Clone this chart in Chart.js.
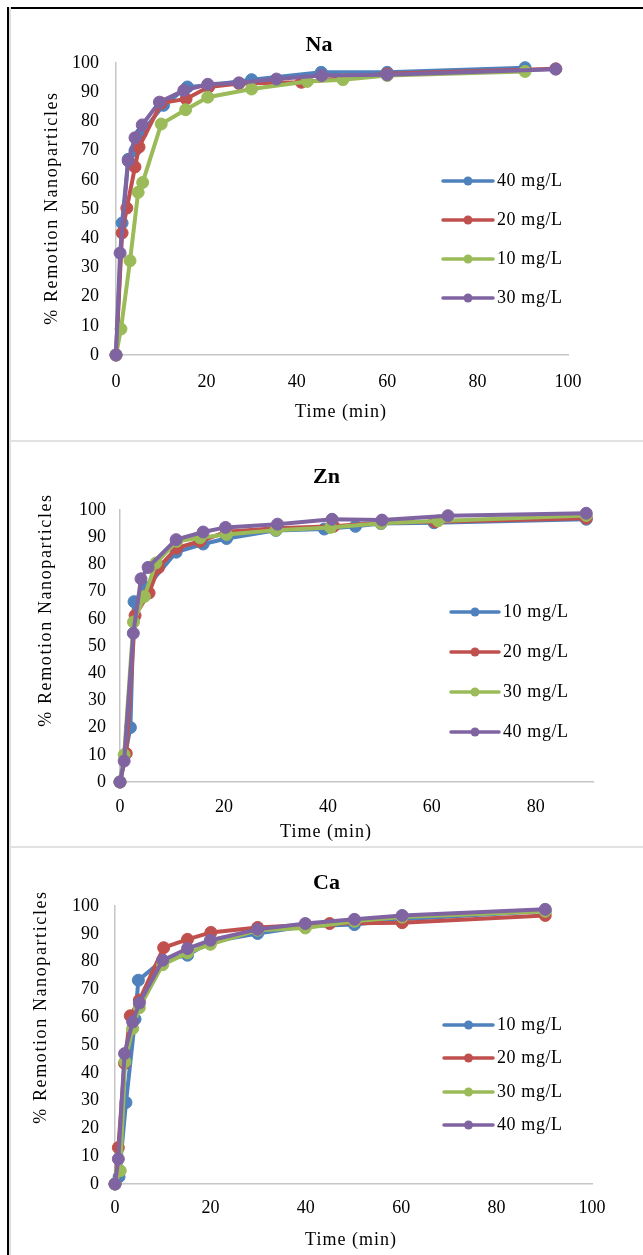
<!DOCTYPE html>
<html>
<head>
<meta charset="utf-8">
<script src="https://cdn.jsdelivr.net/npm/chart.js@4.4.0/dist/chart.umd.min.js"></script>
<style>
  html, body { margin: 0; padding: 0; background: #fff; }
  body { width: 643px; height: 1255px; position: relative; overflow: hidden; }
  .panel { position: absolute; left: 0; width: 643px; }
  .frame-top { position: absolute; left: 7px; top: 7px; right: 0; height: 2px; background: #000; }
  .frame-left { position: absolute; left: 7px; top: 7px; bottom: 0; width: 2px; background: #000; border-right: 2px solid #dedede; }
  .sep { position: absolute; left: 11px; right: 0; height: 2px; background: #e2e2e2; }
</style>
</head>
<body>
<div class="frame-top"></div>
<div class="frame-left"></div>
<div class="sep" style="top:440px"></div>
<div class="sep" style="top:846px"></div>
<div class="panel" style="top:0;height:440px"><canvas id="naChart"></canvas></div>
<div class="panel" style="top:442px;height:404px"><canvas id="znChart"></canvas></div>
<div class="panel" style="top:848px;height:407px"><canvas id="caChart"></canvas></div>

<script>
// ===== REMOVAL KINETICS (Na / Zn / Ca) =====

const SERIES_COLORS = ['#4F81BD', '#C0504D', '#9BBB59', '#8064A2'];
const SERIF = "'Liberation Serif', 'Times New Roman', serif";

// ---- Na ----
const naLabels = ['40 mg/L', '20 mg/L', '10 mg/L', '30 mg/L'];
const naTime40 = [0, 1.35, 2.7, 4.2, 5.6, 10.5, 15.8, 20.3, 30, 45.4, 60, 90.5];
const naRem40  = [0, 45.2, 67, 70, 76, 85.5, 91.8, 92.3, 94.3, 96.8, 96.8, 98.4];
const naTime20 = [0, 1.35, 2.4, 4.2, 5.1, 10, 15.5, 20.5, 27.2, 41, 60, 97.3];
const naRem20  = [0, 41.8, 50.3, 64.4, 71.2, 86.3, 87.7, 91.8, 93, 93.4, 96.3, 98];
const naTime10 = [0, 1.1, 3.1, 4.9, 5.9, 10, 15.4, 20.3, 30, 42.3, 50.2, 60, 90.5];
const naRem10  = [0, 8.9, 32.3, 55.7, 59.1, 79.1, 84, 88.3, 91.1, 93.7, 94.3, 95.7, 97.1];
const naTime30 = [0, 0.9, 2.7, 4.2, 5.8, 9.6, 15, 20.3, 27.2, 35.5, 45.5, 60, 97.3];
const naRem30  = [0, 34.9, 66.5, 74.4, 78.8, 86.6, 90.6, 92.7, 93.2, 94.5, 95.7, 96, 97.9];

// ---- Zn ----
const znLabels = ['10 mg/L', '20 mg/L', '30 mg/L', '40 mg/L'];
const znTime10 = [0, 2, 2.7, 5.1, 10.8, 16, 20.5, 30, 39.3, 45.3, 50.2, 60.4, 89.7];
const znRem10  = [0, 20, 66.3, 71.5, 84.5, 87.5, 89.5, 92.5, 93, 94, 95, 95.3, 96.6];
const znTime20 = [0, 1.2, 2.9, 5.6, 7.4, 10.9, 15.4, 20.5, 30, 41.1, 50.2, 60.6, 89.7];
const znRem20  = [0, 10.5, 61.2, 69.5, 78.8, 86, 88.5, 92, 93.3, 94, 95.3, 95.7, 97];
const znTime30 = [0, 0.8, 2.6, 4.7, 6.9, 10.9, 15.4, 20.5, 30, 40.5, 50.2, 61.2, 89.7];
const znRem30  = [0, 10, 58.8, 68.2, 80.5, 88.5, 89.8, 91, 92.6, 93.6, 95.1, 96, 98];
const znTime40 = [0, 0.8, 2.56, 4.04, 5.4, 10.8, 16, 20.3, 30.3, 40.8, 50.4, 63.1, 89.7];
const znRem40  = [0, 7.7, 54.7, 74.7, 78.9, 89.1, 91.9, 93.6, 94.8, 96.6, 96.3, 97.9, 98.8];

// ---- Ca ----
const caLabels = ['10 mg/L', '20 mg/L', '30 mg/L', '40 mg/L'];
const caTime10 = [0, 0.85, 2.3, 4.2, 4.9, 10, 15.2, 20, 29.9, 39.9, 50.2, 60.2, 90.2];
const caRem10  = [0, 2.6, 29.3, 59.3, 73.3, 80.5, 82.3, 87.1, 90.1, 92.7, 93.3, 95.2, 98.2];
const caTime20 = [0, 0.7, 2, 3.2, 5.1, 10.2, 15.2, 20.1, 29.9, 40, 45, 60.2, 90.2];
const caRem20  = [0, 13.1, 43.4, 60.5, 66.1, 85, 88, 90.5, 92.3, 93.2, 93.7, 94, 96.6];
const caTime30 = [0, 1.1, 2.1, 3.7, 5.1, 10, 15.2, 20, 29.9, 39.9, 50.2, 60.2, 90.2];
const caRem30  = [0, 4.8, 44, 55.9, 63.4, 78.9, 83.1, 86.2, 91.3, 92.1, 94.5, 96, 98.1];
const caTime40 = [0, 0.7, 2, 3.7, 5.1, 10, 15.2, 20, 29.9, 39.9, 50.2, 60.2, 90.2];
const caRem40  = [0, 9, 46.9, 58.3, 65.1, 80.5, 84.7, 87.7, 91.6, 93.7, 95.2, 96.6, 98.8];

const yTicks = { min: 0, max: 100, step: 10 };

function pairUp(ts, vs) {
    return ts.map((t, k) => ({ x: t, y: vs[k] }));
}

// axis captions + line/marker legend, positions given in page pixels
function decorPlugin(p) {
    return {
        id: 'panelDecor',
        afterDraw(chart) {
            const ctx = chart.ctx;
            ctx.save();
            ctx.fillStyle = '#000';
            ctx.font = `18px ${SERIF}`;
            ctx.letterSpacing = '1.6px';
            ctx.textAlign = 'center';
            ctx.textBaseline = 'middle';

            // y caption
            ctx.save();
            ctx.translate(p.yCap[0], p.yCap[1] - p.top);
            ctx.rotate(-Math.PI / 2);
            ctx.fillText('% Remotion Nanoparticles', 0, 0);
            ctx.restore();

            // x caption
            ctx.letterSpacing = '1px';
            ctx.fillText('Time (min)', p.xCap[0], p.xCap[1] - p.top);

            // legend
            const lg = p.legend;
            ctx.textAlign = 'left';
            ctx.letterSpacing = '0.6px';
            chart.data.datasets.forEach((ds, i) => {
                const y = lg.ys[i] - p.top;
                ctx.strokeStyle = ds.borderColor;
                ctx.lineWidth = 3.5;
                ctx.lineCap = 'round';
                ctx.beginPath();
                ctx.moveTo(lg.x1, y);
                ctx.lineTo(lg.x2, y);
                ctx.stroke();
                ctx.fillStyle = ds.borderColor;
                ctx.beginPath();
                ctx.arc((lg.x1 + lg.x2) / 2, y, 4.5, 0, Math.PI * 2);
                ctx.fill();
                ctx.fillStyle = '#000';
                ctx.fillText(ds.label, lg.tx, y);
            });
            ctx.restore();
        }
    };
}

function renderPanel(id, p) {
    const padRight = 643 - p.area.right;
    // title is centred between padLeft and the plot's right edge; the y scale still needs room for its labels
    const padLeft = Math.min(padRight + 10, p.area.left - 46);
    const yWidth = p.area.left - padLeft;
    const xHeight = p.top + p.height - p.area.bottom;
    const tc = p.titleY - p.top;

    const datasets = p.labels.map((lbl, i) => ({
        label: lbl,
        data: pairUp(p.times[i], p.values[i]),
        borderColor: SERIES_COLORS[i],
        backgroundColor: SERIES_COLORS[i],
        pointBackgroundColor: SERIES_COLORS[i],
        pointBorderColor: SERIES_COLORS[i],
        borderWidth: 4,
        pointRadius: 6,
        pointBorderWidth: 1,
        tension: 0,
        clip: false,
        order: 4 - i,
    }));

    new Chart(document.getElementById(id), {
        type: 'line',
        data: { datasets },
        options: {
            responsive: true, maintainAspectRatio: false,
            animation: false,
            layout: { padding: { left: padLeft, right: padRight, top: 0, bottom: 0 } },
            plugins: {
                legend: { display: false },
                tooltip: { enabled: false },
                title: {
                    display: true,
                    text: p.title,
                    color: '#000',
                    font: { family: SERIF, size: 22, weight: 'bold', lineHeight: 1.2 },
                    padding: { top: tc - 13.2, bottom: p.area.top - p.titleY - 13.2 },
                },
            },
            scales: {
                x: {
                    type: 'linear',
                    min: 0, max: p.xMax,
                    grid: { display: false, drawTicks: false },
                    border: { display: true, color: '#c6c6c6', width: 1.5 },
                    ticks: {
                        stepSize: 20, includeBounds: false,
                        color: '#000', padding: p.xPad, maxRotation: 0,
                        font: { family: SERIF, size: 18 },
                    },
                    afterFit: s => { s.height = xHeight; },
                },
                y: {
                    min: yTicks.min, max: yTicks.max,
                    grid: { display: false, drawTicks: false },
                    border: { display: true, color: '#c6c6c6', width: 1.5 },
                    ticks: {
                        stepSize: yTicks.step,
                        color: '#000', padding: p.yPad,
                        font: { family: SERIF, size: 18 },
                    },
                    afterFit: s => { s.width = yWidth; },
                },
            },
        },
        plugins: [decorPlugin(p)],
    });
}

renderPanel('naChart', {
    top: 0, height: 440, title: 'Na', titleY: 45,
    area: { left: 116, right: 568, top: 63, bottom: 355 },
    xMax: 100, xPad: 16, yPad: 17,
    labels: naLabels,
    times: [naTime40, naTime20, naTime10, naTime30],
    values: [naRem40, naRem20, naRem10, naRem30],
    yCap: [52, 208], xCap: [341, 412],
    legend: { x1: 443, x2: 493, tx: 497, ys: [181, 220, 259, 298] },
});

renderPanel('znChart', {
    top: 442, height: 404, title: 'Zn', titleY: 477,
    area: { left: 120, right: 593, top: 510, bottom: 782 },
    xMax: 91, xPad: 14, yPad: 14,
    labels: znLabels,
    times: [znTime10, znTime20, znTime30, znTime40],
    values: [znRem10, znRem20, znRem30, znRem40],
    yCap: [46, 610], xCap: [326, 832],
    legend: { x1: 451, x2: 499, tx: 503, ys: [612, 652, 692, 732] },
});

renderPanel('caChart', {
    top: 848, height: 407, title: 'Ca', titleY: 883,
    area: { left: 115, right: 592, top: 906, bottom: 1184 },
    xMax: 100, xPad: 13, yPad: 16,
    labels: caLabels,
    times: [caTime10, caTime20, caTime30, caTime40],
    values: [caRem10, caRem20, caRem30, caRem40],
    yCap: [41, 1007], xCap: [351, 1240],
    legend: { x1: 444, x2: 493, tx: 497, ys: [1025, 1058, 1092, 1125] },
});
</script>
</body>
</html>
